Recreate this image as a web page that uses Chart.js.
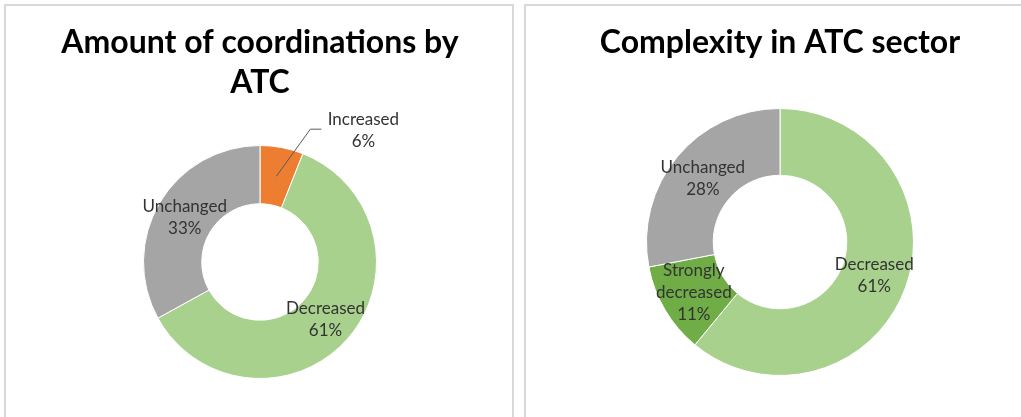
<!DOCTYPE html>
<html>
<head>
<meta charset="utf-8">
<script src="https://cdn.jsdelivr.net/npm/chart.js@4"></script>
<style>
    html, body { margin: 0; padding: 0; background: #fff; overflow: hidden; }
    body { width: 1021px; height: 417px; position: relative; }
    .panel { position: absolute; border: 2px solid #d9d9d9; box-sizing: border-box; }
    #panelLeft { left: 4px; top: 4px; width: 510px; height: 430px; }
    #panelRight { left: 524px; top: 4px; width: 520px; height: 430px; }
    .box { position: absolute; top: 0; width: 520px; height: 417px; }
</style>
</head>
<body>
<div class="panel" id="panelLeft"></div>
<div class="panel" id="panelRight"></div>
<div class="box" style="left:0"><canvas id="coordChart"></canvas></div>
<div class="box" style="left:520px"><canvas id="complexChart"></canvas></div>
<script>
// Amount of coordinations by ATC
var coordLabels = ['Increased', 'Decreased', 'Unchanged'];
var coordValues = [6, 61, 33];
var coordColors = ['#ED7D31', '#A9D18E', '#A5A5A5'];

// Complexity in ATC sector
var complexLabels = ['Decreased', ['Strongly', 'decreased'], 'Unchanged'];
var complexValues = [61, 11, 28];
var complexColors = ['#A9D18E', '#70AD47', '#A5A5A5'];

// plugin que escreve nome + % em cada fatia (estilo Excel)
var sliceLabels = {
    id: 'sliceLabels',
    afterDatasetsDraw: function(chart, args, opts) {
        var ctx = chart.ctx;
        var meta = chart.getDatasetMeta(0);
        var values = chart.data.datasets[0].data;
        var total = values.reduce(function(a, b) { return a + b; }, 0);
        var shifts = opts.shifts || {};
        ctx.save();
        ctx.font = '17px Lato';
        ctx.fillStyle = '#333333';
        ctx.textAlign = 'center';
        ctx.textBaseline = 'middle';
        meta.data.forEach(function(arc, i) {
            var p = arc.tooltipPosition(true);
            var lbl = chart.data.labels[i];
            var lines = (Array.isArray(lbl) ? lbl.slice() : [lbl]);
            lines.push(Math.round(values[i] / total * 100) + '%');
            var x = p.x, y = p.y;
            var s = shifts[i];
            if (s) {
                x += s[0];
                y += s[1];
                // linha de chamada
                ctx.strokeStyle = '#595959';
                ctx.lineWidth = 1;
                ctx.beginPath();
                ctx.moveTo(p.x, p.y);
                ctx.lineTo(x - 53, y - 1);
                ctx.lineTo(x - 42, y - 1);
                ctx.stroke();
            }
            var lh = 22;
            var y0 = y - (lines.length - 1) * lh / 2;
            lines.forEach(function(t, k) {
                ctx.fillText(t, x, y0 + k * lh);
            });
        });
        ctx.restore();
    }
};

function makeDonut(id, labels, values, colors, title, titlePad, bottomPad, shifts) {
    return new Chart(document.getElementById(id), {
        type: 'doughnut',
        data: {
            labels: labels,
            datasets: [{
                data: values,
                backgroundColor: colors,
                borderColor: '#ffffff',
                borderWidth: 1
            }]
        },
        options: {
            responsive: true,
            maintainAspectRatio: false,
            animation: false,
            cutout: '50%',
            layout: { padding: { bottom: bottomPad } },
            plugins: {
                legend: { display: false },
                tooltip: { enabled: false },
                title: {
                    display: true,
                    text: title,
                    color: '#000000',
                    font: { family: 'Lato', size: 32, weight: 'bold', lineHeight: 1.25 },
                    padding: titlePad
                },
                sliceLabels: { shifts: shifts }
            }
        },
        plugins: [sliceLabels]
    });
}

document.addEventListener('DOMContentLoaded', function() {
    makeDonut('coordChart', coordLabels, coordValues, coordColors,
        ['Amount of coordinations by', 'ATC'], { top: 23, bottom: 42 }, 38, { 0: [87, -46] });
    makeDonut('complexChart', complexLabels, complexValues, complexColors,
        'Complexity in ATC sector', { top: 23, bottom: 45 }, 41, {});
});
</script>
</body>
</html>
